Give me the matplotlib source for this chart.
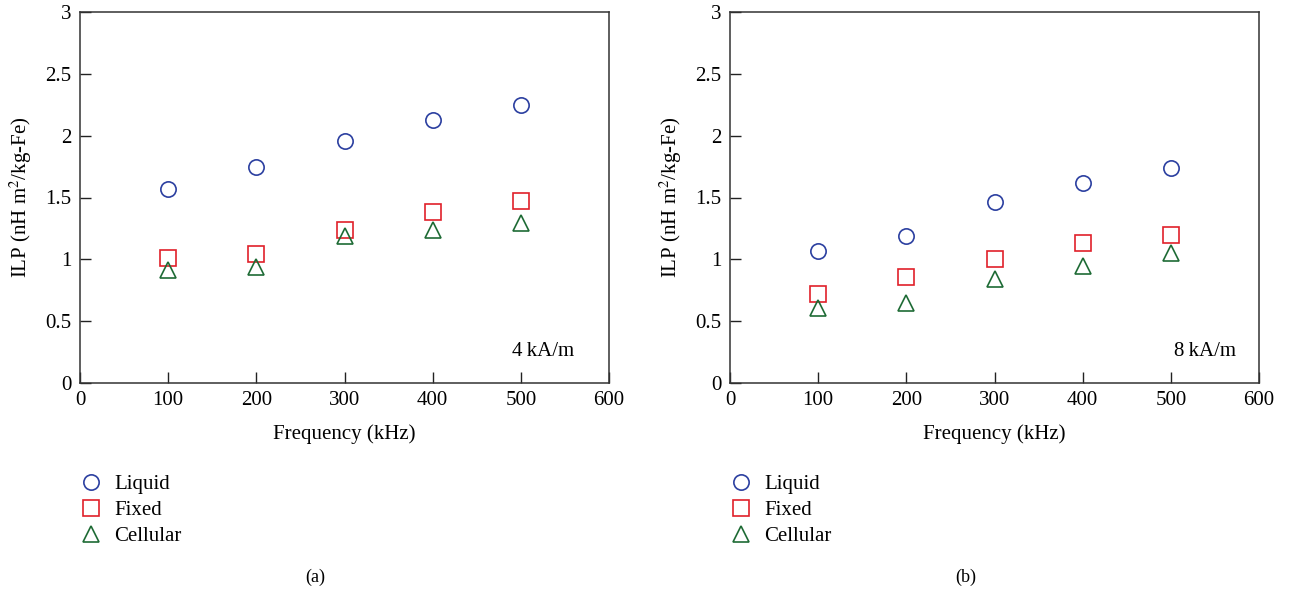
import numpy as np
import matplotlib
matplotlib.use("Agg")
from matplotlib import pyplot as plt

plt.rcParams['font.family'] = ['Liberation Serif', 'DejaVu Serif']
plt.rcParams['mathtext.fontset'] = 'stix'

freq = [100, 200, 300, 400, 500]

# (a) 4 kA/m
liquid_a = [1.57, 1.75, 1.96, 2.13, 2.25]
fixed_a = [1.01, 1.04, 1.24, 1.38, 1.47]
cellular_a = [0.91, 0.94, 1.19, 1.24, 1.29]

# (b) 8 kA/m
liquid_b = [1.07, 1.19, 1.46, 1.62, 1.74]
fixed_b = [0.72, 0.86, 1.00, 1.13, 1.20]
cellular_b = [0.61, 0.65, 0.84, 0.95, 1.05]

labels = ["Liquid", "Fixed", "Cellular"]
fields = ["4\u2009kA/m", "8\u2009kA/m"]
captions = ["(a)", "(b)"]

blue, red, green = "#2b3fa0", "#e0202a", "#1e6b35"

fig = plt.figure(figsize=(12.92, 5.92), dpi=100)
lefts = [80 / 1292, 730 / 1292]
w = 529 / 1292
b = 1 - 383 / 592
h = 371 / 592
txt_x = [0.934, 0.957]
fs = 15

panels = [(liquid_a, fixed_a, cellular_a), (liquid_b, fixed_b, cellular_b)]
for i, (liq, fix, cel) in enumerate(panels):
    ax = fig.add_axes([lefts[i], b, w, h])
    ax.plot(freq, liq, 'o', ms=11, mfc='none', mec=blue, mew=1.2, label=labels[0])
    ax.plot(freq, fix, 's', ms=11, mfc='none', mec=red, mew=1.2, label=labels[1])
    ax.plot(freq, cel, '^', ms=12, mfc='none', mec=green, mew=1.2, label=labels[2])
    ax.set_xlim(0, 600)
    ax.set_ylim(0, 3)
    ax.set_xticks([0, 100, 200, 300, 400, 500, 600])
    ax.set_yticks([0, 0.5, 1, 1.5, 2, 2.5, 3])
    ax.set_yticklabels(["0", "0.5", "1", "1.5", "2", "2.5", "3"])
    ax.tick_params(direction='in', length=8, width=1, labelsize=fs, color='#222', pad=6)
    for s in ax.spines.values():
        s.set_color('#333')
        s.set_linewidth(1.1)
    ax.set_xlabel("Frequency (kHz)", fontsize=fs, labelpad=10)
    ax.set_ylabel("ILP (nH m$^2$/kg-Fe)", fontsize=fs, labelpad=8)
    ax.text(txt_x[i], 0.085, fields[i], transform=ax.transAxes, ha='right',
            va='center', fontsize=fs)
    ax.legend(loc='upper left', bbox_to_anchor=(-0.018, -0.225), frameon=False,
              fontsize=fs, handletextpad=0.5, labelspacing=0.3, borderaxespad=0,
              handlelength=1.2)
    ax.text(0.445, -0.525, captions[i], transform=ax.transAxes,
            ha='center', va='center', fontsize=13)

fig.savefig("out.png", dpi=100)
